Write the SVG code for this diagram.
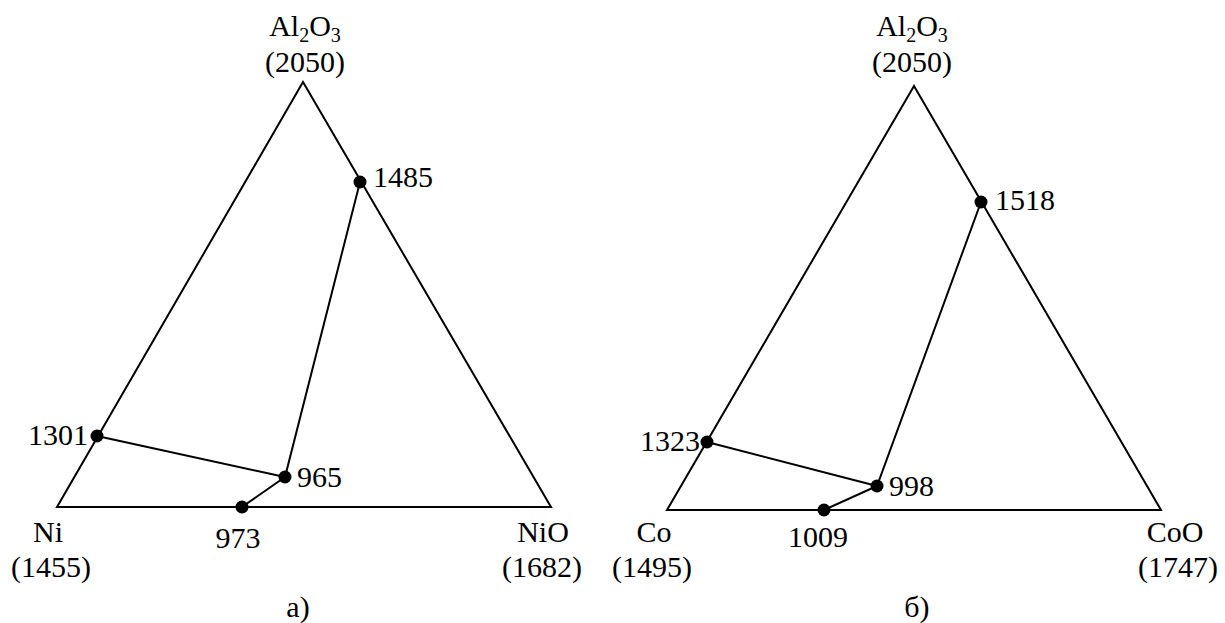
<svg xmlns="http://www.w3.org/2000/svg" width="1225" height="623" viewBox="0 0 1225 623">
<style>
text{font-family:'Liberation Serif','Times New Roman','DejaVu Serif','Noto Serif',serif;font-size:30px;fill:#000}
.m{text-anchor:middle}
.e{text-anchor:end}
.ln{fill:none;stroke:#000;stroke-width:2;stroke-linejoin:miter}
.dot{fill:#000}
.sub{font-size:20px}
</style>
<rect width="1225" height="623" fill="#fff"/>
<g id="connectors">
<polygon class="ln" points="57,507 551,507 303,82"/>
<polyline class="ln" points="97,436 285,477 360,182"/>
<line class="ln" x1="285" y1="477" x2="242" y2="507"/>
<polygon class="ln" points="667,510 1161,510 914,86"/>
<polyline class="ln" points="707,442 877,486 981,202"/>
<line class="ln" x1="877" y1="486" x2="824" y2="510"/>
</g>
<g id="diagram-a" font-family="Liberation Serif, Times New Roman, serif">
<g id="a-al2o3"><text class="m" x="305" y="36">Al<tspan class="sub" dy="6">2</tspan><tspan dy="-6">O</tspan><tspan class="sub" dy="6">3</tspan></text><text class="m" x="305" y="72">(2050)</text></g>
<g id="a-ni"><text class="m" x="48" y="542">Ni</text><text class="m" x="51" y="577">(1455)</text></g>
<g id="a-nio"><text class="m" x="543" y="542">NiO</text><text class="m" x="542" y="577">(1682)</text></g>
<g id="a-1485"><circle class="dot" cx="360" cy="182" r="6.5"/><text x="373" y="187">1485</text></g>
<g id="a-1301"><circle class="dot" cx="97" cy="436" r="6.5"/><text class="e" x="88" y="445">1301</text></g>
<g id="a-965"><circle class="dot" cx="285" cy="477" r="6.5"/><text x="297" y="487">965</text></g>
<g id="a-973"><circle class="dot" cx="242" cy="507" r="6.5"/><text class="m" x="238" y="548">973</text></g>
<text class="m" x="298" y="617">а)</text>
</g>
<g id="diagram-b" font-family="Liberation Serif, Times New Roman, serif">
<g id="b-al2o3"><text class="m" x="912" y="36">Al<tspan class="sub" dy="6">2</tspan><tspan dy="-6">O</tspan><tspan class="sub" dy="6">3</tspan></text><text class="m" x="912" y="72">(2050)</text></g>
<g id="b-co"><text class="m" x="654" y="542">Co</text><text class="m" x="652" y="577">(1495)</text></g>
<g id="b-coo"><text class="m" x="1175" y="542">CoO</text><text class="m" x="1178" y="577">(1747)</text></g>
<g id="b-1518"><circle class="dot" cx="981" cy="202" r="6.5"/><text x="995" y="210">1518</text></g>
<g id="b-1323"><circle class="dot" cx="707" cy="442" r="6.5"/><text class="e" x="700" y="451">1323</text></g>
<g id="b-998"><circle class="dot" cx="877" cy="486" r="6.5"/><text x="889" y="496">998</text></g>
<g id="b-1009"><circle class="dot" cx="824" cy="510" r="6.5"/><text class="m" x="818" y="547">1009</text></g>
<text class="m" x="917" y="617">б)</text>
</g>
</svg>
